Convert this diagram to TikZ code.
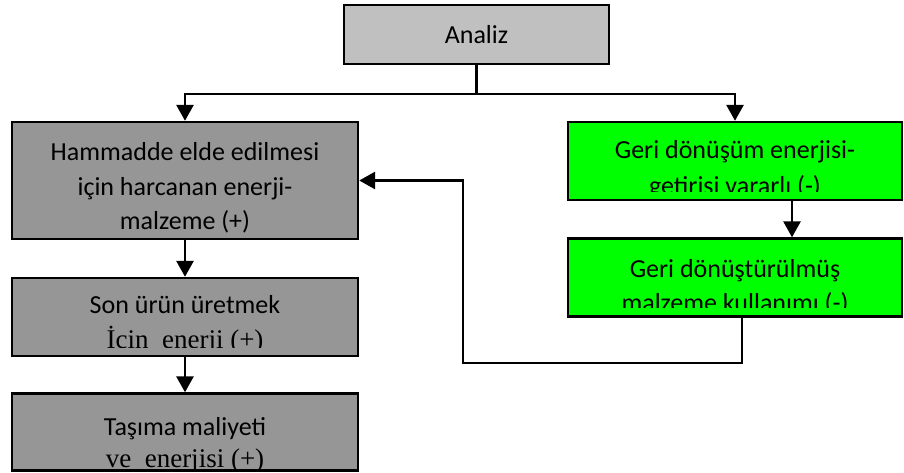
\documentclass[tikz,border=0pt]{standalone}
\usepackage{fontspec}
\setmainfont{Carlito}
\newfontfamily\timesfont{Liberation Serif}
\usetikzlibrary{arrows.meta}

\definecolor{lightgrey}{RGB}{192,192,192}
\definecolor{darkgrey}{RGB}{150,150,150}
\definecolor{brightgreen}{RGB}{0,255,0}

\begin{document}
\begin{tikzpicture}[
    x=1pt, y=-1pt,
    line width=2.8pt,
    box/.style={draw=black, line width=2.4pt, inner sep=0pt},
    arr/.style={-{Triangle[length=16pt,width=17pt]}},
    txt/.style={anchor=base, inner sep=0pt, font=\fontsize{26}{30}\selectfont},
    serif/.style={anchor=base, inner sep=0pt, font=\timesfont\fontsize{27}{30}\selectfont}
]

\useasboundingbox (0,0) rectangle (904,472);

% Boxes
\node[box, fill=lightgrey, minimum width=265pt, minimum height=59pt] (analiz) at (476.5,34.5) {};
\node[box, fill=darkgrey, minimum width=346pt, minimum height=117pt] (hamm) at (185,180.5) {};
\node[box, fill=darkgrey, minimum width=346pt, minimum height=78pt] (son) at (185,317) {};
\node[box, fill=darkgrey, minimum width=346pt, minimum height=77pt] (tasima) at (185,432) {};
\node[box, fill=brightgreen, minimum width=334pt, minimum height=78pt] (geri1) at (735,161) {};
\node[box, fill=brightgreen, minimum width=334pt, minimum height=78pt] (geri2) at (735,277.5) {};

% Texts
\node[txt] (analiztxt) at (476.5,43) {Analiz};

\begin{scope}
\clip (hamm.north west) rectangle ([yshift=8pt]hamm.south east);
\node[txt] (hamm1) at (185,160) {Hammadde elde edilmesi};
\node[txt] (hamm2) at (185,195) {için harcanan enerji-};
\node[txt] (hamm3) at (185,229) {malzeme (+)};
\end{scope}

\begin{scope}
\clip (son.north west) rectangle ([yshift=10pt]son.south east);
\node[txt] (son1) at (185,313) {Son ürün üretmek};
\node[serif] (son2) at (185,348) {İçin\ \ enerji (+)};
\end{scope}

\begin{scope}
\clip (tasima.north west) rectangle ([yshift=3pt]tasima.south east);
\node[txt] (tasima1) at (185,435) {Taşıma maliyeti};
\node[serif] (tasima2) at (185,467) {ve\ \ enerjisi (+)};
\end{scope}

\begin{scope}
\clip (geri1.north west) rectangle ([yshift=10pt]geri1.south east);
\node[txt] (geri1a) at (735,158) {Geri dönüşüm enerjisi-};
\node[txt] (geri1b) at (735,194) {getirisi vararlı (-)};
\end{scope}

\begin{scope}
\clip (geri2.north west) rectangle ([yshift=10pt]geri2.south east);
\node[txt] (geri2a) at (735,277) {Geri dönüştürülmüş};
\node[txt] (geri2b) at (735,311) {malzeme kullanımı (-)};
\end{scope}

% Connectors
\coordinate (split) at (476.5,94);
\coordinate (back) at (463,363);
\draw (analiz.south) -- (split);
\draw[arr] (split) -| (hamm.north);
\draw[arr] (split) -| (geri1.north);
\draw[arr] (hamm.south) -- (son.north);
\draw[arr] (son.south) -- (tasima.north);
\draw[arr] ([xshift=57pt]geri1.south) -- ([xshift=57pt]geri2.north);
\draw[arr] ([xshift=7pt]geri2.south) |- (back) |- (hamm.east);

\end{tikzpicture}
\end{document}
